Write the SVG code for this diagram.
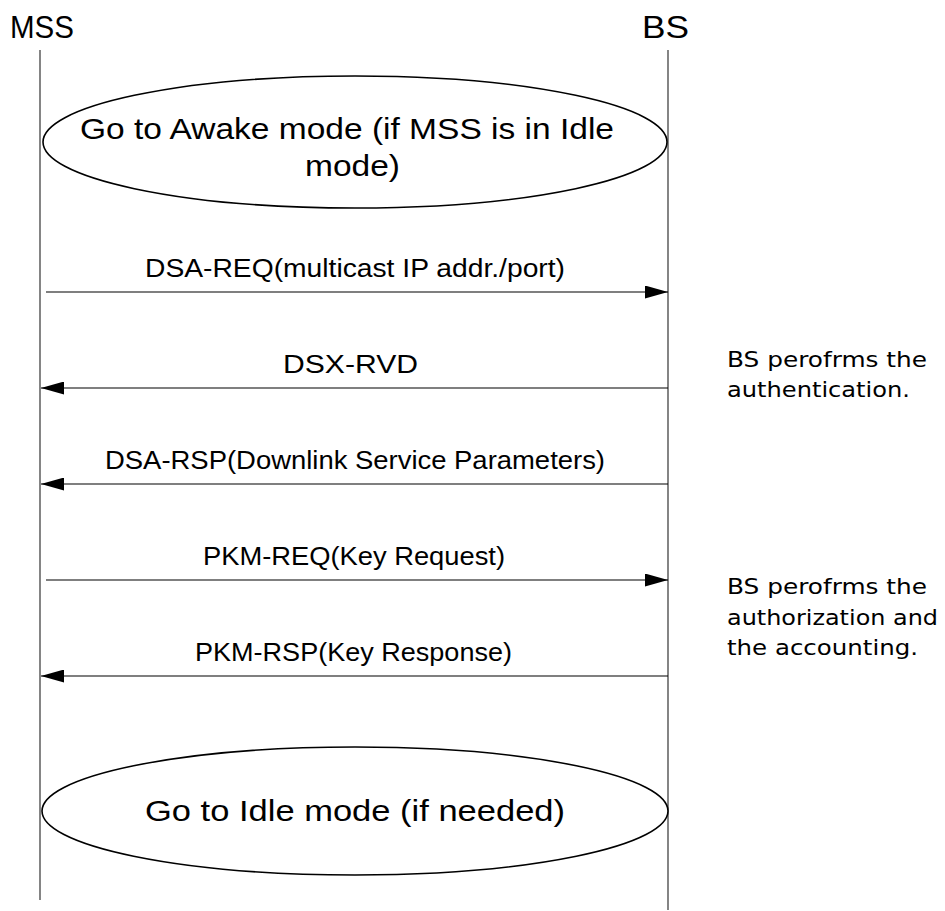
<svg xmlns="http://www.w3.org/2000/svg" width="945" height="911" viewBox="0 0 945 911">
<style>
.t{font-family:"Liberation Sans",Arial,sans-serif;fill:#000}
.h{font-size:32px}
.m{font-size:25px}
.e{font-size:29px}
.n{font-family:"DejaVu Sans",sans-serif;font-size:22px;fill:#000}
.life{stroke:#333;stroke-width:1.2;fill:none}
.msg{stroke:#000;stroke-width:1.2;fill:none}
.ell{stroke:#000;stroke-width:1.6;fill:#fff}
</style>
<defs>
<marker id="ah" markerWidth="23" markerHeight="13" refX="23" refY="6.5" orient="auto" markerUnits="userSpaceOnUse">
<path d="M0,0 L23,6.5 L0,13 Z" fill="#000"/>
</marker>
</defs>
<rect width="945" height="911" fill="#fff"/>
<g id="mss">
<text class="t h" x="10" y="38" textLength="64" lengthAdjust="spacingAndGlyphs">MSS</text>
<line class="life" x1="40" y1="50" x2="40" y2="900"/>
</g>
<g id="bs">
<text class="t h" x="642" y="38" textLength="47" lengthAdjust="spacingAndGlyphs">BS</text>
<line class="life" x1="668" y1="50" x2="668" y2="910"/>
</g>
<g id="awake">
<ellipse class="ell" cx="355" cy="142" rx="312" ry="66"/>
<text class="t e" x="80" y="139" textLength="534" lengthAdjust="spacingAndGlyphs">Go to Awake mode (if MSS is in Idle</text>
<text class="t e" x="305" y="176" textLength="95" lengthAdjust="spacingAndGlyphs">mode)</text>
</g>
<g id="idle">
<ellipse class="ell" cx="355" cy="811" rx="313" ry="64"/>
<text class="t e" x="145" y="821" textLength="420" lengthAdjust="spacingAndGlyphs">Go to Idle mode (if needed)</text>
</g>
<g id="note1">
<text class="n" x="727" y="367" textLength="200" lengthAdjust="spacingAndGlyphs">BS perofrms the</text>
<text class="n" x="727" y="397" textLength="183" lengthAdjust="spacingAndGlyphs">authentication.</text>
</g>
<g id="note2">
<text class="n" x="727" y="594" textLength="200" lengthAdjust="spacingAndGlyphs">BS perofrms the</text>
<text class="n" x="727" y="625" textLength="211" lengthAdjust="spacingAndGlyphs">authorization and</text>
<text class="n" x="727" y="655" textLength="191" lengthAdjust="spacingAndGlyphs">the accounting.</text>
</g>
<g id="connectors">
<line class="msg" x1="46" y1="292" x2="668" y2="292" marker-end="url(#ah)"/>
<text class="t m" x="145" y="277" textLength="420" lengthAdjust="spacingAndGlyphs">DSA-REQ(multicast IP addr./port)</text>
<line class="msg" x1="668" y1="388" x2="41" y2="388" marker-end="url(#ah)"/>
<text class="t m" x="283" y="373" textLength="135" lengthAdjust="spacingAndGlyphs">DSX-RVD</text>
<line class="msg" x1="668" y1="484" x2="41" y2="484" marker-end="url(#ah)"/>
<text class="t m" x="105" y="469" textLength="500" lengthAdjust="spacingAndGlyphs">DSA-RSP(Downlink Service Parameters)</text>
<line class="msg" x1="46" y1="580" x2="668" y2="580" marker-end="url(#ah)"/>
<text class="t m" x="203" y="565" textLength="302" lengthAdjust="spacingAndGlyphs">PKM-REQ(Key Request)</text>
<line class="msg" x1="668" y1="676" x2="41" y2="676" marker-end="url(#ah)"/>
<text class="t m" x="195" y="661" textLength="317" lengthAdjust="spacingAndGlyphs">PKM-RSP(Key Response)</text>
</g>
</svg>
